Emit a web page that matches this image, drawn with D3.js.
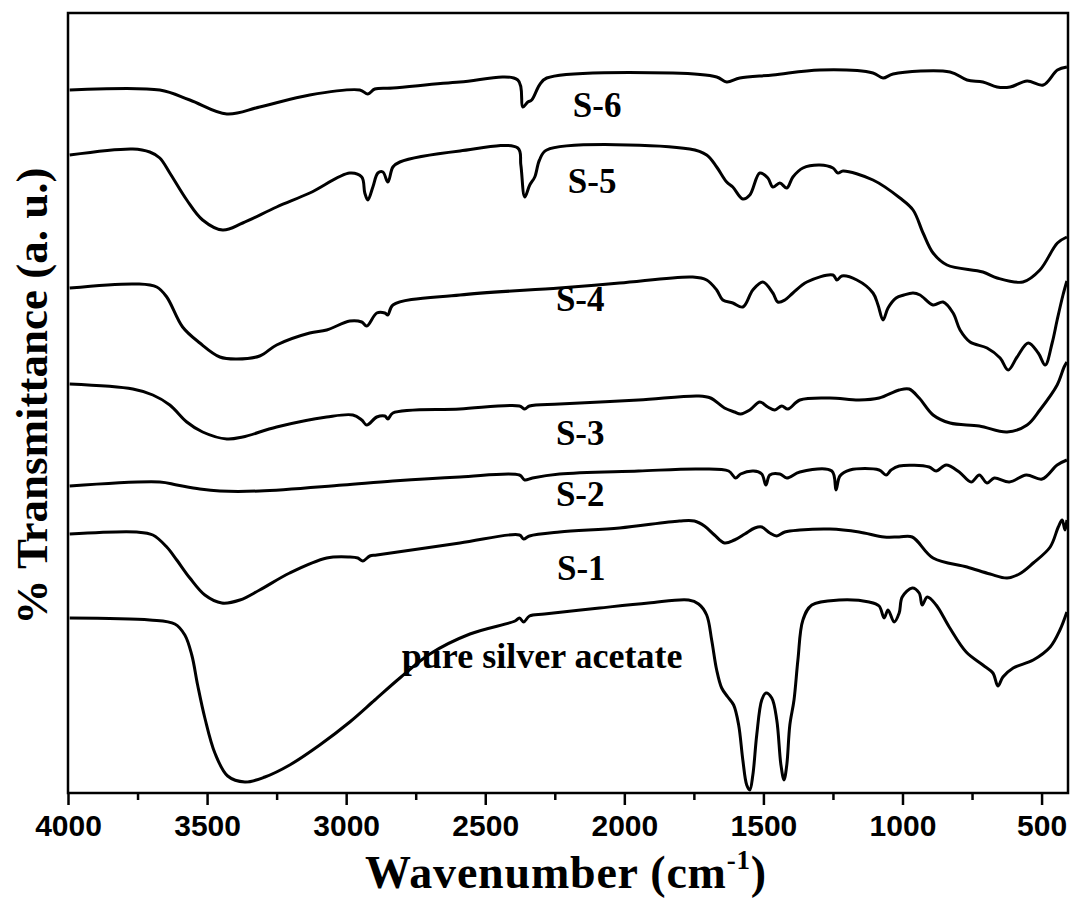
<!DOCTYPE html>
<html>
<head>
<meta charset="utf-8">
<script src="https://cdn.jsdelivr.net/npm/d3@7"></script>
<style>
  body { margin: 0; background: #fff; }
  svg { display: block; }
</style>
</head>
<body>
<svg></svg>
<script>
const width = 1074;
const height = 901;
const margin = {top: 13, right: 6, bottom: 108, left: 68};

// spectra: [wavenumber (cm-1), transmittance (a. u.)]
const pure = [
  [3994,175],[3706,173],[3616,169],[3580,158],[3555,138],[3534,108],[3508,75],[3472,40],
  [3426,17],[3364,11],[3292,16],[3203,28],[3095,48],[2987,71],[2897,93],[2807,115],
  [2699,139],[2555,159],[2393,172],[2377,175],[2362,171],[2341,177],[2287,179],[2089,185],
  [1913,190],[1769,193],[1733,189],[1704,178],[1686,153],[1668,123],[1650,105],[1628,96],
  [1607,88],[1589,68],[1574,33],[1560,8],[1549,3],[1538,18],[1524,58],[1506,93],
  [1491,100],[1470,95],[1452,73],[1437,28],[1426,13],[1416,28],[1405,68],[1390,93],
  [1376,133],[1358,173],[1326,188],[1228,193],[1120,191],[1084,187],[1066,175],[1052,183],
  [1030,171],[1012,180],[1001,196],[965,205],[940,200],[929,188],[911,196],[879,188],
  [832,166],[771,141],[711,128],[675,120],[657,107],[639,116],[602,125],[530,133],
  [469,146],[434,163],[409,181]
];
const s1 = [
  [3994,259],[3753,261],[3695,258],[3645,246],[3609,233],[3562,215],[3508,198],[3447,190],
  [3382,193],[3311,203],[3203,220],[3070,235],[2987,236],[2958,235],[2940,232],[2915,237],
  [2890,238],[2591,250],[2377,258],[2362,254],[2341,257],[2233,261],[2017,265],[1802,272],
  [1748,272],[1712,267],[1676,258],[1640,250],[1604,253],[1567,259],[1531,265],[1506,266],
  [1477,260],[1452,257],[1423,261],[1369,263],[1261,264],[1156,261],[1066,256],[1012,256],
  [965,256],[890,235],[768,226],[685,219],[624,215],[580,219],[530,230],[469,246],
  [440,266],[426,273],[416,263],[409,273]
];
const s2 = [
  [3994,307],[3670,311],[3609,308],[3526,304],[3454,302],[3311,302],[3012,308],[2832,312],
  [2591,316],[2377,318],[2358,313],[2330,315],[2233,319],[1949,322],[1733,324],[1625,322],
  [1600,315],[1582,319],[1535,322],[1506,319],[1491,308],[1477,318],[1441,319],[1416,315],
  [1369,321],[1254,322],[1239,303],[1225,317],[1189,323],[1084,323],[1059,318],[1041,323],
  [1012,327],[904,326],[879,322],[843,328],[796,321],[753,311],[724,318],[696,310],
  [670,315],[616,311],[555,318],[498,314],[444,328],[409,333]
];
const s3 = [
  [3994,409],[3767,404],[3695,398],[3634,388],[3573,371],[3516,361],[3429,354],[3372,356],
  [3250,366],[3070,376],[2976,378],[2944,373],[2926,368],[2890,376],[2861,377],[2850,374],
  [2832,380],[2591,384],[2377,387],[2358,384],[2341,387],[2233,389],[1949,393],[1733,397],
  [1690,395],[1640,385],[1604,381],[1582,379],[1549,383],[1513,391],[1484,386],[1459,383],
  [1434,387],[1412,384],[1369,393],[1261,395],[1156,393],[1084,395],[1012,403],[976,404],
  [940,395],[890,378],[829,370],[724,367],[624,361],[552,368],[506,383],[444,408],
  [419,426],[409,431]
];
const s4 = [
  [3994,505],[3753,509],[3681,506],[3645,496],[3588,466],[3526,450],[3454,436],[3393,434],
  [3311,437],[3250,448],[3131,460],[3070,463],[2987,472],[2944,471],[2926,467],[2890,480],
  [2861,480],[2850,478],[2832,488],[2591,498],[2233,505],[2017,510],[1754,516],[1704,513],
  [1668,503],[1646,493],[1610,490],[1574,486],[1538,503],[1502,511],[1466,500],[1448,491],
  [1423,493],[1394,500],[1344,511],[1250,518],[1236,513],[1218,517],[1164,513],[1106,500],
  [1088,488],[1070,473],[1052,485],[1023,495],[995,498],[962,500],[937,498],[890,488],
  [854,491],[818,480],[793,463],[757,451],[696,445],[649,435],[620,423],[588,436],
  [548,450],[512,440],[487,428],[462,450],[444,473],[423,498],[409,512]
];
const s5 = [
  [3994,638],[3767,644],[3706,641],[3670,635],[3634,620],[3573,593],[3516,573],[3444,563],
  [3372,570],[3250,586],[3131,600],[2987,620],[2944,616],[2933,600],[2922,593],[2904,606],
  [2886,620],[2868,621],[2850,611],[2832,626],[2807,631],[2591,642],[2383,645],[2372,628],
  [2358,596],[2340,608],[2322,616],[2305,633],[2279,643],[1765,644],[1704,638],[1668,626],
  [1632,611],[1610,606],[1574,594],[1549,598],[1513,620],[1484,615],[1466,606],[1441,610],
  [1416,605],[1394,616],[1358,625],[1297,628],[1250,625],[1232,620],[1214,622],[1106,613],
  [1009,595],[962,583],[926,560],[890,540],[840,528],[711,521],[660,515],[567,511],
  [506,523],[443,550],[409,556]
];
const s6 = [
  [3994,703],[3670,703],[3562,693],[3429,679],[3311,686],[3131,698],[2951,703],[2922,699],
  [2897,704],[2832,705],[2591,711],[2383,713],[2365,686],[2347,691],[2333,693],[2305,708],
  [2279,715],[1826,720],[1668,716],[1632,711],[1585,715],[1466,718],[1297,723],[1106,720],
  [1070,715],[1034,719],[829,721],[768,713],[711,711],[660,706],[613,706],[552,712],
  [494,708],[443,723],[409,726]
];

const seriesNames = ['pure silver acetate', 'S-1', 'S-2', 'S-3', 'S-4', 'S-5', 'S-6'];
const seriesData = [pure, s1, s2, s3, s4, s5, s6];
// label anchor: [wavenumber, transmittance] of left end of the baseline
const labelAt = [[2800,125],[2242,213],[2246,287],[2246,348],[2246,482],[2203,600],[2185,676]];
const labelSize = [36, 35, 35, 35, 35, 35, 35];

const xTicks = [4000, 3500, 3000, 2500, 2000, 1500, 1000, 500];
const xMinorTicks = [3750, 3250, 2750, 2250, 1750, 1250, 750];

const innerWidth = width - margin.left - margin.right;
const innerHeight = height - margin.top - margin.bottom;

const svg = d3.select('svg')
  .attr('width', width)
  .attr('height', height);

const xScale = d3.scaleLinear()
  .domain([4000, 405])
  .range([margin.left, margin.left + innerWidth]);

const yScale = d3.scaleLinear()
  .domain([0, 780])
  .range([margin.top + innerHeight, margin.top]);

const line = d3.line()
  .x(d => xScale(d[0]))
  .y(d => yScale(d[1]))
  .curve(d3.curveCatmullRom.alpha(0.5));

svg.append('g')
  .selectAll('path').data(seriesData)
  .enter().append('path')
    .attr('d', line)
    .attr('fill', 'none')
    .attr('stroke', '#000')
    .attr('stroke-width', 3)
    .attr('stroke-linejoin', 'round');

// frame
svg.append('rect')
  .attr('x', margin.left)
  .attr('y', margin.top)
  .attr('width', innerWidth)
  .attr('height', innerHeight)
  .attr('fill', 'none')
  .attr('stroke', '#000')
  .attr('stroke-width', 2.5);

const xAxis = svg.append('g')
  .attr('transform', `translate(0, ${margin.top + innerHeight})`)
  .call(d3.axisBottom(xScale).tickValues(xTicks).tickSize(12).tickPadding(10).tickFormat(d3.format('d')));
xAxis.select('.domain').remove();
xAxis.selectAll('.tick line').attr('stroke-width', 2.5);
xAxis.selectAll('.tick text')
  .attr('font-family', '"Liberation Sans", Arial, sans-serif')
  .attr('font-weight', 'bold')
  .attr('font-size', 30)
  .attr('fill', '#000');

const xMinor = svg.append('g')
  .attr('transform', `translate(0, ${margin.top + innerHeight})`)
  .call(d3.axisBottom(xScale).tickValues(xMinorTicks).tickSize(7).tickFormat(''));
xMinor.select('.domain').remove();
xMinor.selectAll('.tick line').attr('stroke-width', 2.5);

// curve labels
svg.append('g')
  .selectAll('text').data(seriesNames)
  .enter().append('text')
    .attr('x', (d, i) => xScale(labelAt[i][0]))
    .attr('y', (d, i) => yScale(labelAt[i][1]))
    .attr('font-family', '"Liberation Serif", "Times New Roman", serif')
    .attr('font-weight', 'bold')
    .attr('font-size', (d, i) => labelSize[i])
    .text(d => d);

// axis titles
const xTitle = svg.append('text')
  .attr('x', 566)
  .attr('y', 888)
  .attr('text-anchor', 'middle')
  .attr('font-family', '"Liberation Serif", "Times New Roman", serif')
  .attr('font-weight', 'bold')
  .attr('font-size', 46)
  .attr('letter-spacing', 0.8);
xTitle.append('tspan').text('Wavenumber (cm');
xTitle.append('tspan').attr('dy', -19).attr('font-size', 27).text('-1');
xTitle.append('tspan').attr('dy', 19).text(')');

svg.append('text')
  .attr('transform', 'translate(47, 396) rotate(-90)')
  .attr('text-anchor', 'middle')
  .attr('font-family', '"Liberation Serif", "Times New Roman", serif')
  .attr('font-weight', 'bold')
  .attr('font-size', 45)
  .text('% Transmittance (a. u.)');
</script>
</body>
</html>
